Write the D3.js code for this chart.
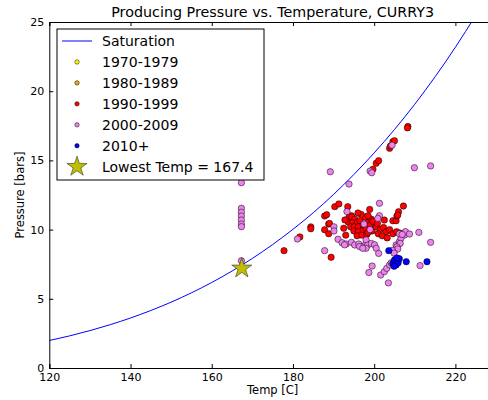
<!DOCTYPE html>
<html>
<head>
<meta charset="utf-8">
<script src="https://cdn.jsdelivr.net/npm/d3@7"></script>
<style>
body { margin:0; background:#fff; }
text { font-family:"DejaVu Sans", sans-serif; fill:#000; }
</style>
</head>
<body>
<svg id="chart"></svg>
<script>

// producing pressure vs temperature, by decade

var screen = {width:488,height:400}
var margins = {top:22,left:49.3,right:-8,bottom:32}

var titleText = "Producing Pressure vs. Temperature, CURRY3"
var xTicks = [120,140,160,180,200,220]
var yTicks = [0,5,10,15,20,25]

// saturation curve (steam table, temp C / pressure bars)
var satTemp = [120,125,130,135,140,145,150,155,160,165,170,175,180,185,190,195,200,205,210,215,220,225,230]
var satPres = [1.985,2.321,2.701,3.130,3.613,4.154,4.758,5.431,6.178,7.005,7.917,8.920,10.02,11.22,12.54,13.98,15.54,17.23,19.06,21.04,23.18,25.48,27.95]

var data70s = []
var data80s = []

var data90s = [
    [177.8,8.48],[181.7,9.47],[184.4,10.2],[184.4,10.06],[187.8,10.98],[188.3,11.08],
    [188.8,10.4],[187.8,9.99],[188.8,9.7],[189.4,8.0],[190.3,11.66],[191.3,11.85],
    [193.5,11.66],[189.0,10.45],[194.4,11.0],[198.9,11.46],[199.7,14.36],[200.5,14.79],
    [201.1,14.98],[203.8,15.87],[204.0,16.04],[204.6,16.35],[205.0,16.42],[208.3,17.45],
    [208.2,17.35],[207.2,11.7],[202.5,10.69],[204.6,10.64],[205.4,10.64],[205.6,10.98],
    [206.0,11.29],[205.8,11.05],
    [193.8,10.9],[194.5,10.9],[195.2,10.75],[193.6,10.55],[194.6,10.5],[195.8,10.5],
    [196.5,10.65],[194.2,10.2],[195.1,10.2],[196.1,10.2],[197.3,10.3],[195.0,9.9],
    [196.1,9.85],[197.3,9.95],[195.8,9.55],[197.0,9.6],[198.2,9.65],[197.8,10.9],
    [198.5,10.5],[199.3,10.75],[198.0,10.1],[199.0,10.3],[200.0,10.5],[199.5,9.9],
    [200.5,10.2],[198.5,9.8],[199.7,10.6],[200.8,10.45],[201.5,10.0],[202.3,10.15],
    [203.0,9.85],[203.8,10.0],[204.6,9.7],[205.5,9.85],[206.3,9.75],[201.0,9.7],
    [202.0,9.55],[203.2,9.4],[198.5,11.0],[196.8,11.1],[192.8,10.7],[192.5,10.1],
    [193.0,9.6],[196.0,11.2]
]

var data00s = [
    [167.3,13.39],[167.3,11.54],[167.3,11.25],[167.3,10.98],[167.3,10.69],[167.3,10.40],
    [167.3,10.21],[167.3,7.75],[181.1,9.32],[187.8,8.48],[189.2,14.18],[193.8,13.29],
    [199.0,14.23],[199.4,14.11],[204.4,16.1],[209.9,14.47],[213.9,14.6],[201.3,11.9],
    [193.3,11.3],[190.1,10.2],[190.1,9.9],[201.3,11.0],[200.9,10.81],
    [191.1,9.30],[192.1,9.05],[193.1,8.96],[194.4,9.08],[195.2,8.89],[196.2,8.96],
    [197.2,8.77],[198.0,9.01],[198.0,9.25],[198.4,8.88],[198.0,8.65],[199.3,9.0],
    [200.1,8.9],[200.5,8.65],[201.1,8.28],[192.7,8.9],[196.4,8.77],[197.2,8.65],
    [205.4,8.89],[206.2,9.13],[206.6,9.37],[207.5,9.61],[207.7,9.85],[208.7,9.68],
    [211.0,9.8],[206.2,9.7],[206.9,9.65],[206.4,9.0],[205.6,8.75],[205.8,8.6],
    [204.5,8.5],[204.9,8.3],[213.9,9.08],[211.3,7.4],
    [199.5,7.37],[198.7,6.9],[201.6,6.72],[202.5,6.96],[203.1,7.2],[203.8,7.45],
    [204.2,7.6],[197.5,10.4],[199.0,10.0],[203.5,6.15]
]

var data10s = [
    [203.6,8.48],[204.6,7.55],[205.0,7.8],[205.4,7.45],[205.9,7.6],[206.2,7.9],
    [204.9,7.35],[205.6,7.95],[207.9,7.68],[213.0,7.68]
]

var lowest = [167.4,7.2]

var groups = [
    {label:"1970-1979", color:"#ffff00", points:data70s},
    {label:"1980-1989", color:"#ffa500", points:data80s},
    {label:"1990-1999", color:"#ff0000", points:data90s},
    {label:"2000-2009", color:"#ee82ee", points:data00s},
    {label:"2010+", color:"#0000ff", points:data10s}
]

var setup = function()
{
    var svg = d3.select("#chart")
        .attr("width",screen.width)
        .attr("height",screen.height)

    var x0 = margins.left
    var x1 = screen.width - margins.right
    var y0 = screen.height - margins.bottom
    var y1 = margins.top

    var xScale = d3.scaleLinear().domain([120,230]).range([x0,x1])
    var yScale = d3.scaleLinear().domain([0,25]).range([y0,y1])

    svg.append("clipPath").attr("id","clip")
        .append("rect")
        .attr("x",x0).attr("y",y1)
        .attr("width",x1-x0).attr("height",y0-y1)

    var plot = svg.append("g").attr("clip-path","url(#clip)")

    // saturation line
    var sat = satTemp.map(function(t,i){ return [t,satPres[i]] })
    var line = d3.line()
        .x(function(d){ return xScale(d[0]) })
        .y(function(d){ return yScale(d[1]) })
        .curve(d3.curveMonotoneX)

    plot.append("path")
        .datum(sat)
        .attr("d",line)
        .attr("fill","none")
        .attr("stroke","#0000ff")
        .attr("stroke-width",1)

    groups.forEach(function(g)
    {
        plot.append("g")
            .selectAll("circle")
            .data(g.points)
            .enter()
            .append("circle")
            .attr("cx",function(d){ return xScale(d[0]) })
            .attr("cy",function(d){ return yScale(d[1]) })
            .attr("r",3.2)
            .attr("fill",g.color)
            .attr("stroke","#000")
            .attr("stroke-width",0.5)
    })

    var star = d3.symbol().type(d3.symbolStar).size(125)
    plot.append("path")
        .attr("d",star)
        .attr("transform","translate("+xScale(lowest[0])+","+yScale(lowest[1])+")")
        .attr("fill","#bfbf00")
        .attr("stroke","#333")
        .attr("stroke-width",0.6)

    // axes, ticks point inward
    var axes = svg.append("g")
    var bottom = d3.axisBottom(xScale).tickValues(xTicks).tickSize(-4).tickPadding(5)
    var top = d3.axisTop(xScale).tickValues(xTicks).tickSize(-4).tickFormat("")
    var left = d3.axisLeft(yScale).tickValues(yTicks).tickSize(-4).tickPadding(5)

    axes.append("g").attr("transform","translate(0,"+y0+")").call(bottom)
    axes.append("g").attr("transform","translate(0,"+y1+")").call(top)
    axes.append("g").attr("transform","translate("+x0+",0)").call(left)

    axes.selectAll(".domain").attr("stroke","#000").attr("stroke-width",1)
    axes.selectAll(".tick line").attr("stroke","#000")
    axes.selectAll(".tick text")
        .style("font-family","DejaVu Sans")
        .style("font-size","11px")
        .attr("fill","#000")

    svg.append("text")
        .attr("x",(x0+x1)/2)
        .attr("y",17)
        .attr("text-anchor","middle")
        .style("font-size","14.3px")
        .text(titleText)

    svg.append("text")
        .attr("x",(x0+x1)/2)
        .attr("y",394)
        .attr("text-anchor","middle")
        .style("font-size","11.5px")
        .text("Temp [C]")

    svg.append("text")
        .attr("transform","translate(24,"+((y0+y1)/2)+") rotate(-90)")
        .attr("text-anchor","middle")
        .style("font-size","11.5px")
        .text("Pressure [bars]")

    drawLegend(svg)
}

var drawLegend = function(svg)
{
    var lg = svg.append("g")
    lg.append("rect")
        .attr("x",57).attr("y",29)
        .attr("width",207).attr("height",151)
        .attr("fill","#fff")
        .attr("stroke","#000")
        .attr("stroke-width",1)

    var rowY = function(i){ return 41 + i*20.95 }

    lg.append("line")
        .attr("x1",62).attr("x2",92)
        .attr("y1",rowY(0)).attr("y2",rowY(0))
        .attr("stroke","#0000ff")
    lg.append("text").attr("x",102).attr("y",rowY(0)+5)
        .style("font-size","14px").text("Saturation")

    groups.forEach(function(g,i)
    {
        lg.append("circle")
            .attr("cx",77).attr("cy",rowY(i+1))
            .attr("r",2.2)
            .attr("fill",g.color)
            .attr("stroke","#000")
            .attr("stroke-width",0.5)
        lg.append("text").attr("x",102).attr("y",rowY(i+1)+5)
            .style("font-size","14px").text(g.label)
    })

    lg.append("path")
        .attr("d",d3.symbol().type(d3.symbolStar).size(125))
        .attr("transform","translate(77,"+rowY(6)+")")
        .attr("fill","#bfbf00")
        .attr("stroke","#333")
        .attr("stroke-width",0.6)
    lg.append("text").attr("x",102).attr("y",rowY(6)+5)
        .style("font-size","14px").text("Lowest Temp = "+lowest[0])
}

setup()

</script>
</body>
</html>
